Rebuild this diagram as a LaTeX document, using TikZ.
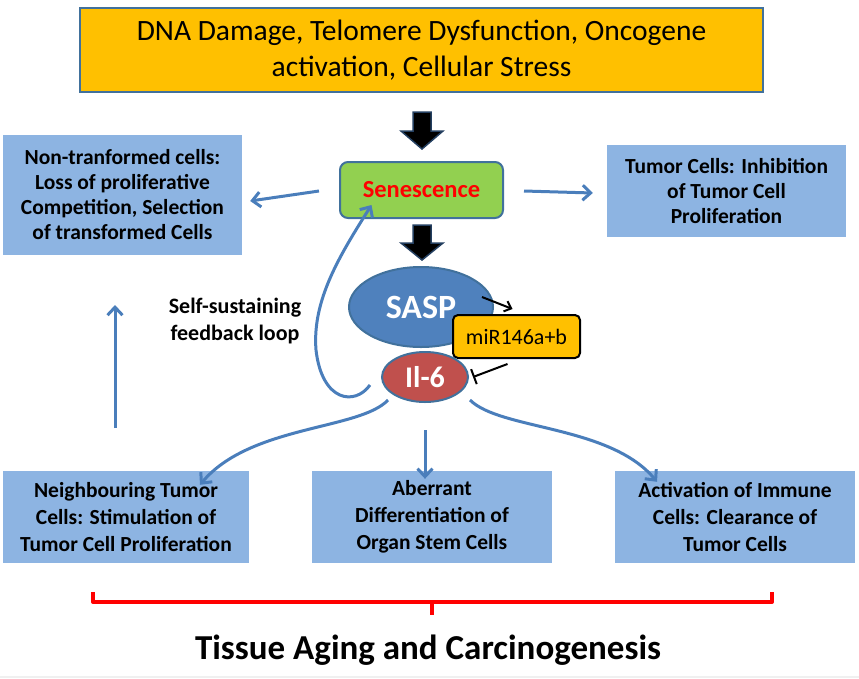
\documentclass[tikz,border=0pt]{standalone}
\usepackage{fontspec}
\setmainfont{Carlito}
\usetikzlibrary{arrows.meta,calc,shapes.geometric}
\definecolor{orng}{HTML}{FFC000}
\definecolor{lblue}{HTML}{8DB4E2}
\definecolor{sgreen}{HTML}{92D050}
\definecolor{sasp}{HTML}{4F81BD}
\definecolor{ilred}{HTML}{C0504D}
\definecolor{edge}{HTML}{41719C}
\definecolor{arrblue}{HTML}{4A7EBB}
\definecolor{darkout}{HTML}{243F60}
\tikzset{
  bluebox/.style={fill=lblue, draw=none, align=center, inner sep=0pt,
    font=\fontsize{21.5}{25}\selectfont\bfseries},
  bluearrow/.style={draw=arrblue, line width=3pt, -{Straight Barb[length=8pt,width=15pt,line width=3pt]}},
  blockarrow/.style={fill=black, draw=darkout, line width=1.5pt, line join=miter},
}
\begin{document}
\begin{tikzpicture}[x=1pt,y=-1pt]
\useasboundingbox (0,0) rectangle (859,678);
\fill[gray!12] (0,676) rectangle (859,678);

% top box
\node[fill=orng, draw=edge, line width=2pt, minimum width=683pt, minimum height=84pt, inner sep=0pt,
  align=center, font=\fontsize{29.5}{36}\selectfont] (top) at (421.5,50)
  {DNA Damage, Telomere Dysfunction, Oncogene\\activation, Cellular Stress};

% senescence
\node[fill=sgreen, draw=edge, line width=2pt, rounded corners=8pt, minimum width=163pt, minimum height=56pt,
  inner sep=0pt, text=red, font=\fontsize{24.5}{28}\selectfont\bfseries] (sen) at (421.5,190) {Senescence};

% side boxes
\node[bluebox, minimum width=239pt, minimum height=120pt] (lbox) at (122.5,195)
  {Non-tranformed cells:\\Loss of proliferative\\Competition, Selection\\of transformed Cells};
\node[bluebox, minimum width=239pt, minimum height=92pt] (rbox) at (726.5,191)
  {Tumor Cells: Inhibition\\of Tumor Cell\\Proliferation};

% SASP, miR, Il-6
\node[ellipse, fill=sasp, draw=edge, line width=2pt, minimum width=144pt, minimum height=80pt, inner sep=0pt,
  text=white, font=\fontsize{34}{38}\selectfont\bfseries] (sasp) at (421,307) {SASP};
\node[fill=orng, draw=black, line width=2pt, rounded corners=5pt, minimum width=127pt, minimum height=43pt,
  inner sep=0pt, font=\fontsize{22}{26}\selectfont] (mir) at (516.5,336.5) {miR146a+b};
\node[ellipse, fill=ilred, draw=edge, line width=2pt, minimum width=86pt, minimum height=50pt, inner sep=0pt,
  text=white, font=\fontsize{30}{34}\selectfont\bfseries] (il6) at (425,377) {Il-6};

% bottom boxes
\node[bluebox, minimum width=246pt, minimum height=92pt, font=\fontsize{21.5}{27}\selectfont\bfseries] (nb) at (126,517)
  {Neighbouring Tumor\\Cells: Stimulation of\\Tumor Cell Proliferation};
\node[bluebox, minimum width=240pt, minimum height=92pt, font=\fontsize{21.5}{27}\selectfont\bfseries] (ab) at (432,517)
  {Aberrant\\Differentiation of\\Organ Stem Cells};
\node[bluebox, minimum width=240pt, minimum height=92pt, font=\fontsize{21.5}{27}\selectfont\bfseries] (ac) at (735,517)
  {Activation of Immune\\Cells: Clearance of\\Tumor Cells};

% label
\node[align=center, font=\fontsize{22}{27}\selectfont\bfseries] (lbl) at (235,321)
  {Self-sustaining\\feedback loop};

% title
\node[font=\fontsize{35}{40}\selectfont\bfseries] (title) at (428,650) {Tissue Aging and Carcinogenesis};

% block arrows
\draw[blockarrow] (413,112) -- (431,112) -- (431,131) -- (443,131) -- (422,149) -- (401,131) -- (413,131) -- cycle;
\draw[blockarrow] (413,225) -- (431,225) -- (431,243) -- (443,243) -- (422,260) -- (401,243) -- (413,243) -- cycle;

% side arrows
\draw[bluearrow] ([xshift=-20pt,yshift=-1pt]sen.west) -- ([xshift=8pt,yshift=-6pt]lbox.east);
\draw[bluearrow] ([xshift=20pt,yshift=-1pt]sen.east) -- ([xshift=-14pt,yshift=-2pt]rbox.west);
\coordinate (upA) at (115,428);
\coordinate (upB) at (115,305);
\draw[bluearrow] (upA) -- (upB);

% feedback loop
\draw[bluearrow] ($(il6.center)+(-55,8)$) .. controls (355,406) and (322,402) .. (316,350)
  .. controls (312,300) and (340,255) .. ([xshift=-50pt,yshift=14pt]sen.south);

% SASP -> miR, miR -| Il-6
\draw[black, line width=2pt, -{Straight Barb[length=6pt,width=11pt,line width=2pt]}] ($(sasp.center)+(61,-10)$) -- ($(mir.north)+(-4,-5)$);
\draw[black, line width=2pt, -{Bar[width=16pt,line width=2pt]}] ($(mir.south)+(-9,5)$) -- ($(il6.east)+(4,0)$);

% bottom arrows
\draw[bluearrow] ($(il6.center)+(-37,23)$) .. controls (360,430) and (250,425) .. ([xshift=74pt,yshift=-14pt]nb.north);
\draw[bluearrow] (425,430) -- ([xshift=-7pt,yshift=-8pt]ab.north);
\draw[bluearrow] ($(il6.center)+(45,23)$) .. controls (500,430) and (610,425) .. ([xshift=-78pt,yshift=-11pt]ac.north);

% bracket
\draw[red, line width=4pt, line join=round] (93,592) -- (93,602) -- (772,602) -- (772,592);
\draw[red, line width=4pt] (432,602) -- (432,615);
\end{tikzpicture}
\end{document}
